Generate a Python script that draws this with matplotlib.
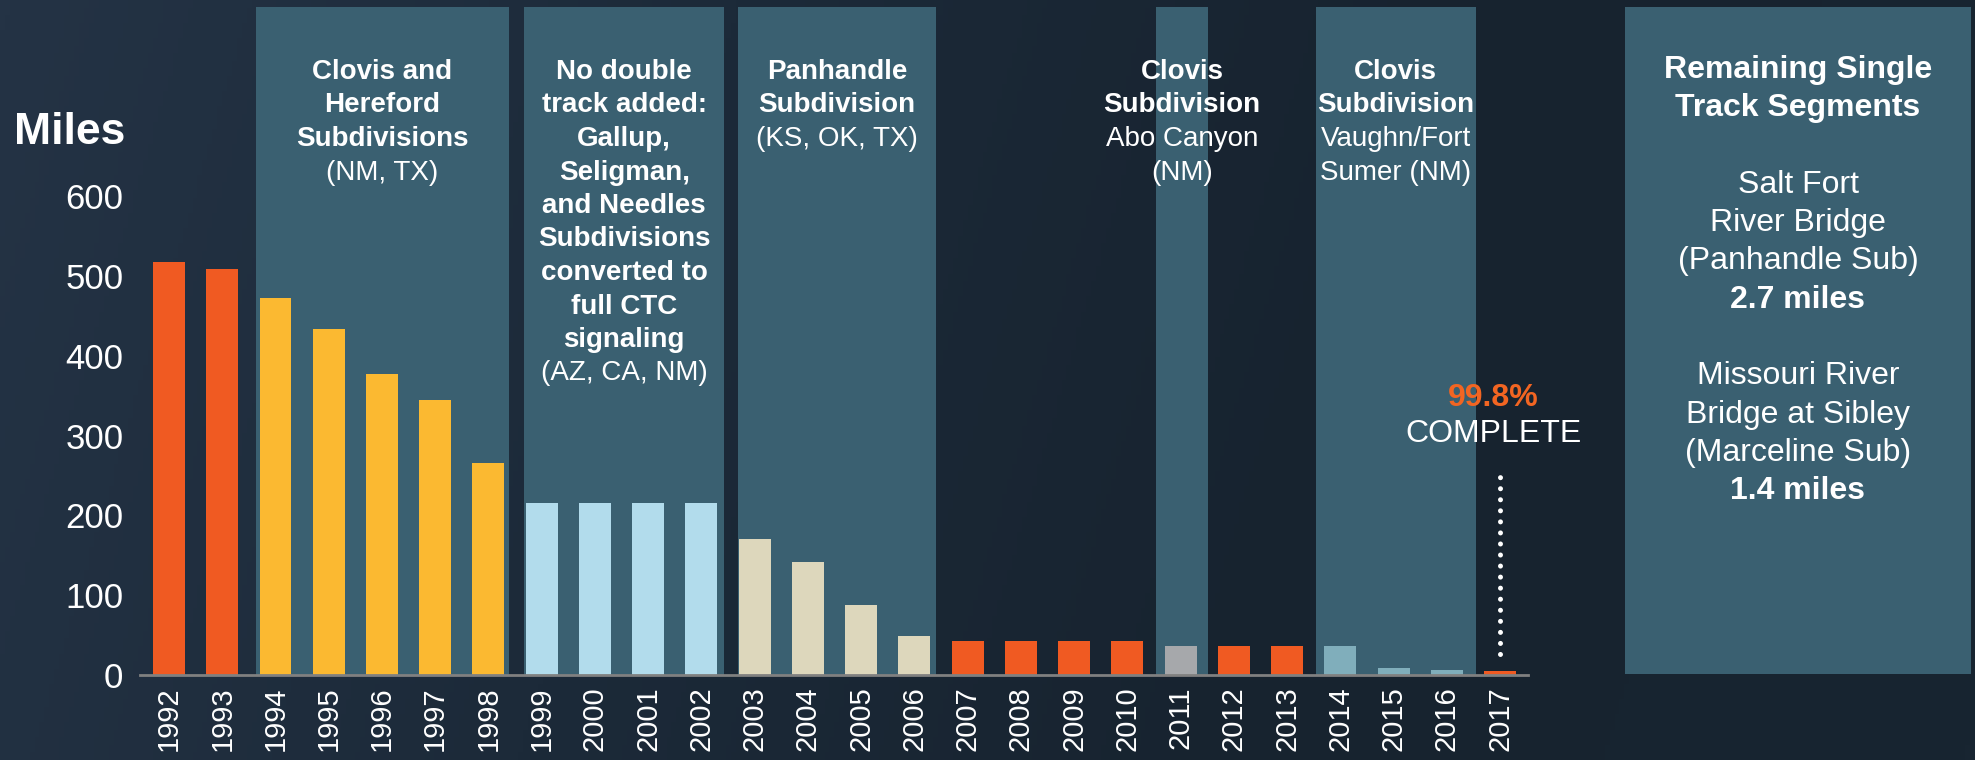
import numpy as np
import matplotlib
matplotlib.use("Agg")
import matplotlib.pyplot as plt
from matplotlib.patches import Rectangle
from matplotlib.colors import LinearSegmentedColormap
from matplotlib.transforms import blended_transform_factory

plt.rcParams['font.family'] = ['Liberation Sans', 'DejaVu Sans']

# data
years = list(range(1992, 2018))
miles = [518, 509, 472, 433, 377, 344, 266, 215, 215, 215, 215, 170, 141, 88,
         49, 43, 43, 43, 43, 36, 36, 36, 36, 9, 6, 5]
phase = ['single', 'single', 'hereford', 'hereford', 'hereford', 'hereford', 'hereford',
         'ctc', 'ctc', 'ctc', 'ctc', 'panhandle', 'panhandle', 'panhandle', 'panhandle',
         'single', 'single', 'single', 'single', 'abo', 'single', 'single',
         'vaughn', 'vaughn', 'vaughn', 'single']
y_ticks = [0, 100, 200, 300, 400, 500, 600]

# shaded project spans: (first year, last year, note lines as (text, bold))
spans = [
    (1994, 1998, [("Clovis and", True), ("Hereford", True), ("Subdivisions", True),
                  ("(NM, TX)", False)]),
    (1999, 2002, [("No double", True), ("track added:", True), ("Gallup,", True),
                  ("Seligman,", True), ("and Needles", True), ("Subdivisions", True),
                  ("converted to", True), ("full CTC", True), ("signaling", True),
                  ("(AZ, CA, NM)", False)]),
    (2003, 2006, [("Panhandle", True), ("Subdivision", True), ("(KS, OK, TX)", False)]),
    (2011, 2011, [("Clovis", True), ("Subdivision", True), ("Abo Canyon", False),
                  ("(NM)", False)]),
    (2014, 2016, [("Clovis", True), ("Subdivision", True), ("Vaughn/Fort", False),
                  ("Sumer (NM)", False)]),
]
remaining = [("Remaining Single", True), ("Track Segments", True), ("", False),
             ("Salt Fort", False), ("River Bridge", False), ("(Panhandle Sub)", False),
             ("2.7 miles", True), ("", False),
             ("Missouri River", False), ("Bridge at Sibley", False),
             ("(Marceline Sub)", False), ("1.4 miles", True)]
complete_pct = "99.8%"

# style
phase_colors = {'single': '#f05a22', 'hereford': '#fbb931', 'ctc': '#b2dcec',
                'panhandle': '#ddd7bc', 'abo': '#a6a8ab', 'vaughn': '#80aebb'}
span_pad = [(0.37, 0.39), (0.33, 0.43), (0.31, 0.41), (0.46, 0.52), (0.46, 0.54)]
panel_color = '#3a6071'
W, H = 1975, 760

fig = plt.figure(figsize=(W / 100, H / 100), dpi=100)

# background gradient
bg = fig.add_axes([0, 0, 1, 1], zorder=-10)
cmap = LinearSegmentedColormap.from_list('bg', ['#243345', '#1c2a39', '#17232f', '#182531'])
gx = np.linspace(0, 1, 400)
gy = np.linspace(0, 1, 100)[:, None]
grad = gx[None, :] * 0.9 + gy * 0.1
bg.imshow(grad, cmap=cmap, aspect='auto', extent=[0, 1, 0, 1])
bg.axis('off')

ax = fig.add_axes([140 / W, 85 / H, (W - 140) / W, 675 / H])
ax.patch.set_alpha(0)
px_per_unit = 0.798
ax.set_ylim(0, 675 / px_per_unit)
ax.set_xlim(-0.545, -0.545 + (W - 140) / 53.24)

x = np.arange(len(years))
top = 668 / px_per_unit

# shaded columns with notes
fy = blended_transform_factory(ax.transData, fig.transFigure)
for (y0, y1, lines), (pl, pr) in zip(spans, span_pad):
    i0, i1 = years.index(y0), years.index(y1)
    ax.add_patch(Rectangle((i0 - pl, 0), (i1 + pr) - (i0 - pl), top,
                           facecolor=panel_color, edgecolor='none', zorder=0))
    cx = ((i0 - pl) + (i1 + pr)) / 2
    for k, (t, b) in enumerate(lines):
        ax.text(cx, 1 - (72 + 33.5 * k) / H, t, transform=fy, ha='center', va='center',
                color='white', fontsize=20, fontweight='bold' if b else 'normal', zorder=5)

# bars
colors = [phase_colors[p] for p in phase]
ax.bar(x, miles, width=0.6, color=colors, zorder=2)

# 99.8% marker
i_last = len(years) - 1
ax.plot([x[i_last], x[i_last]], [26, 259], color='white', lw=3.6,
        linestyle=(0, (0.01, 2.2)), dash_capstyle='round', zorder=4)
ax.text(x[i_last] - 0.13, 1 - 398 / H, complete_pct, transform=fy, ha='center', va='center',
        color='#f26522', fontsize=23, fontweight='bold', zorder=5)
ax.text(x[i_last] - 0.13, 1 - 434 / H, "COMPLETE", transform=fy, ha='center', va='center',
        color='white', fontsize=23, zorder=5)

# axes styling
for s in ['top', 'right', 'left']:
    ax.spines[s].set_visible(False)
ax.spines['bottom'].set_bounds(-0.545, 25.53)
ax.spines['bottom'].set_color('#808080')
ax.spines['bottom'].set_linewidth(2)
ax.spines['bottom'].set_zorder(3)
ax.set_yticks(y_ticks)
ax.set_yticklabels([str(v) for v in y_ticks], fontsize=25, color='white')
ax.set_xticks(x)
ax.set_xticklabels([str(y) for y in years], rotation=90, fontsize=21, color='white')
ax.tick_params(axis='y', length=0, pad=12)
ax.tick_params(axis='x', length=0, pad=8)

fig.text(70 / W, 1 - 133 / H, "Miles", ha='center', va='center', color='white',
         fontsize=32, fontweight='bold')

# remaining single track box
fig.patches.append(Rectangle((1625 / W, 86 / H), 346 / W, (760 - 7 - 86) / H,
                             transform=fig.transFigure, facecolor=panel_color,
                             edgecolor='none', zorder=0))
for k, (t, b) in enumerate(remaining):
    if t:
        fig.text(1798 / W, 1 - (70 + 38.3 * k) / H, t, ha='center', va='center',
                 color='white', fontsize=23, fontweight='bold' if b else 'normal')

fig.savefig('out.png', dpi=100)
